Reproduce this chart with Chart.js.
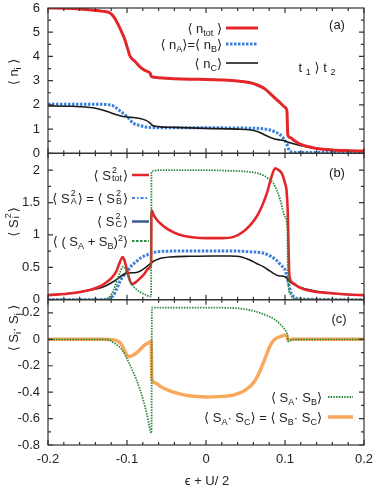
<!DOCTYPE html>
<html>
<head>
<meta charset="utf-8">
<script src="https://cdn.jsdelivr.net/npm/chart.js@4.4.1/dist/chart.umd.min.js"></script>
<style>
  body { margin: 0; background: #fff; }
  #wrap { position: relative; width: 374px; height: 490px; font-family: 'Liberation Sans', 'DejaVu Sans', sans-serif; font-size: 13px; color: #222; }
  #wrap canvas { position: absolute; left: 0; top: 0; }
  .lbl { position: absolute; white-space: nowrap; transform: translate(-50%, -50%); }
  .leg { position: absolute; white-space: nowrap; transform: translateY(-50%); }
  .rot { position: absolute; white-space: nowrap; transform: translate(-50%, -50%) rotate(-90deg); }
  sub { font-size: 9px; vertical-align: -3px; line-height: 0; }
  .ss { display: inline-block; vertical-align: middle; font-size: 9px; line-height: 8px; text-align: left; margin: -6px 1px 0 1px; }
  svg { position: absolute; left: 0; top: 0; }
</style>
</head>
<body>
<div id="wrap">
  <canvas id="ca" width="374" height="490"></canvas>
  <canvas id="cb" width="374" height="490"></canvas>
  <canvas id="cc" width="374" height="490"></canvas>
  <svg width="374" height="490">
    <line x1="226" y1="28" x2="258" y2="28" stroke="#e4262b" stroke-width="3"/>
    <line x1="226" y1="44" x2="258" y2="44" stroke="#3d7fd6" stroke-width="3" stroke-dasharray="2.5 1.5"/>
    <line x1="226" y1="63" x2="258" y2="63" stroke="#1a1a1a" stroke-width="1.6"/>
    <line x1="132" y1="175" x2="149" y2="175" stroke="#e4262b" stroke-width="2.5"/>
    <line x1="132" y1="198" x2="149" y2="198" stroke="#3d7fd6" stroke-width="2" stroke-dasharray="3 2 1.5 2"/>
    <line x1="132" y1="221.5" x2="149" y2="221.5" stroke="#3b5a93" stroke-width="2.5"/>
    <line x1="132" y1="241" x2="149" y2="241" stroke="#2b8a3e" stroke-width="1.8" stroke-dasharray="2.5 1.5"/>
    <line x1="328" y1="397" x2="353" y2="397" stroke="#2b8a3e" stroke-width="1.8" stroke-dasharray="1.5 1.2"/>
    <line x1="328" y1="417" x2="353" y2="417" stroke="#f8a95c" stroke-width="3.5"/>
  </svg>

  <div class="rot" style="left:13px;top:72px">⟨ n<sub>i</sub> ⟩</div>
  <div class="rot" style="left:13px;top:222px">⟨ S<span class="ss">2<br>i</span>⟩</div>
  <div class="rot" style="left:13px;top:328px">⟨ S<sub>i</sub>· S<sub>j</sub> ⟩</div>

  <div class="leg" style="right:152px;top:28px">⟨ n<sub>tot</sub> ⟩</div>
  <div class="leg" style="right:152px;top:44px">⟨ n<sub>A</sub>⟩=⟨ n<sub>B</sub>⟩</div>
  <div class="leg" style="right:152px;top:63px">⟨ n<sub>C</sub>⟩</div>
  <div class="lbl" style="left:337px;top:24px">(a)</div>
  <div class="lbl" style="left:317px;top:67px">t <sub>1</sub> ⟩ t <sub>2</sub></div>

  <div class="leg" style="right:246px;top:175px">⟨ S<span class="ss">2<br>tot</span>⟩</div>
  <div class="leg" style="right:246px;top:198px">⟨ S<span class="ss">2<br>A</span>⟩ = ⟨ S<span class="ss">2<br>B</span>⟩</div>
  <div class="leg" style="right:246px;top:221px">⟨ S<span class="ss">2<br>C</span>⟩</div>
  <div class="leg" style="right:246px;top:241px">⟨ ( S<sub>A</sub> + S<sub>B</sub>)<sup style="font-size:9px">2</sup>⟩</div>
  <div class="lbl" style="left:337px;top:172px">(b)</div>

  <div class="leg" style="right:52px;top:397px">⟨ S<sub>A</sub>· S<sub>B</sub>⟩</div>
  <div class="leg" style="right:52px;top:417px">⟨ S<sub>A</sub>· S<sub>C</sub>⟩ = ⟨ S<sub>B</sub>· S<sub>C</sub>⟩</div>
  <div class="lbl" style="left:339px;top:318px">(c)</div>

  <div class="lbl" style="left:207px;top:480px">ϵ + U/ 2</div>
</div>
<script>
// x axis
var xTicks = [-0.2, -0.1, 0, 0.1, 0.2];

// (a) occupation numbers
var ticksA = [0, 1, 2, 3, 4, 5, 6];
var nTotX = [-0.2, -0.18, -0.16, -0.14, -0.13, -0.122, -0.116, -0.111, -0.106, -0.1025, -0.099, -0.096, -0.09, -0.0835, -0.076, -0.0705, -0.0695, -0.066, -0.06, -0.04, -0.02, 0, 0.02, 0.04, 0.055, 0.065, 0.075, 0.085, 0.094, 0.1, 0.1025, 0.1035, 0.107, 0.111, 0.119, 0.13, 0.14, 0.16, 0.18, 0.2];
var nTotY = [6.0, 5.99, 5.96, 5.9, 5.86, 5.8, 5.6, 5.3, 4.95, 4.67, 4.3, 4.0, 3.8, 3.57, 3.4, 3.3, 3.18, 3.14, 3.12, 3.08, 3.06, 3.05, 3.03, 2.99, 2.92, 2.82, 2.65, 2.35, 2.08, 1.9, 1.72, 0.76, 0.64, 0.54, 0.38, 0.27, 0.2, 0.14, 0.11, 0.09];
var nABX = [-0.2, -0.16, -0.13, -0.122, -0.117, -0.113, -0.107, -0.1, -0.092, -0.084, -0.075, -0.065, -0.05, -0.02, 0.02, 0.05, 0.07, 0.08, 0.088, 0.094, 0.099, 0.102, 0.104, 0.106, 0.11, 0.12, 0.2];
var nABY = [2.03, 2.03, 2.02, 2.0, 1.95, 1.86, 1.7, 1.52, 1.24, 1.15, 1.08, 1.06, 1.05, 1.05, 1.05, 1.04, 1.02, 0.97, 0.88, 0.76, 0.58, 0.41, 0.22, 0.1, 0.05, 0.03, 0.03];
var nCX = [-0.2, -0.17, -0.143, -0.13, -0.1215, -0.112, -0.105, -0.096, -0.0835, -0.076, -0.071, -0.068, -0.06, -0.04, 0, 0.04, 0.055, 0.065, 0.072, 0.078, 0.086, 0.094, 0.1, 0.103, 0.11, 0.119, 0.13, 0.14, 0.16, 0.18, 0.2];
var nCY = [1.96, 1.94, 1.88, 1.78, 1.68, 1.58, 1.52, 1.49, 1.44, 1.36, 1.26, 1.16, 1.1, 1.07, 1.03, 1.0, 0.97, 0.9, 0.8, 0.7, 0.6, 0.55, 0.51, 0.47, 0.4, 0.32, 0.25, 0.2, 0.14, 0.11, 0.09];

// (b) spin squares
var ticksB = [0, 0.5, 1, 1.5, 2];
var sTotX = [-0.2, -0.17, -0.147, -0.135, -0.126, -0.12, -0.116, -0.113, -0.11, -0.1055, -0.103, -0.1, -0.097, -0.094, -0.09, -0.0835, -0.078, -0.073, -0.0695, -0.069, -0.066, -0.062, -0.058, -0.05, -0.041, -0.03, -0.015, 0, 0.02, 0.035, 0.047, 0.056, 0.064, 0.07, 0.077, 0.083, 0.0875, 0.092, 0.096, 0.1, 0.102, 0.1035, 0.1045, 0.1055, 0.11, 0.118, 0.127, 0.14, 0.16, 0.18, 0.2];
var sTotY = [0.07, 0.1, 0.15, 0.2, 0.27, 0.33, 0.39, 0.45, 0.55, 0.66, 0.6, 0.46, 0.32, 0.24, 0.26, 0.33, 0.4, 0.48, 0.56, 1.38, 1.3, 1.23, 1.18, 1.1, 1.04, 0.99, 0.96, 0.95, 0.95, 0.97, 1.05, 1.15, 1.28, 1.42, 1.64, 1.9, 2.03, 2.0, 1.95, 1.8, 1.68, 1.35, 0.8, 0.38, 0.26, 0.19, 0.15, 0.12, 0.1, 0.08, 0.07];
var sAX = [-0.2, -0.14, -0.128, -0.1215, -0.117, -0.113, -0.109, -0.105, -0.1, -0.094, -0.088, -0.082, -0.075, -0.068, -0.062, -0.04, 0, 0.04, 0.055, 0.0725, 0.082, 0.089, 0.095, 0.1, 0.104, 0.108, 0.113, 0.12, 0.2];
var sAY = [0, 0, 0.005, 0.02, 0.07, 0.17, 0.28, 0.36, 0.43, 0.53, 0.59, 0.65, 0.69, 0.72, 0.74, 0.75, 0.75, 0.75, 0.74, 0.72, 0.67, 0.61, 0.53, 0.46, 0.27, 0.1, 0.03, 0.01, 0];
var sCX = [-0.2, -0.17, -0.147, -0.134, -0.126, -0.117, -0.1, -0.088, -0.075, -0.067, -0.06, -0.045, -0.02, 0.01, 0.03, 0.045, 0.056, 0.064, 0.0725, 0.08, 0.085, 0.092, 0.1, 0.106, 0.114, 0.123, 0.14, 0.157, 0.18, 0.2];
var sCY = [0.07, 0.1, 0.15, 0.18, 0.22, 0.28, 0.41, 0.42, 0.51, 0.59, 0.63, 0.66, 0.67, 0.675, 0.675, 0.66, 0.61, 0.56, 0.51, 0.45, 0.41, 0.37, 0.355, 0.28, 0.22, 0.176, 0.13, 0.1, 0.08, 0.07];
var sABX = [-0.2, -0.13, -0.1215, -0.117, -0.113, -0.109, -0.105, -0.1, -0.096, -0.09, -0.0835, -0.077, -0.071, -0.0695, -0.069, -0.066, -0.06, -0.04, 0, 0.03, 0.05, 0.062, 0.0725, 0.08, 0.085, 0.09, 0.094, 0.1, 0.103, 0.1035, 0.1045, 0.107, 0.11, 0.115, 0.2];
var sABY = [0, 0, 0.05, 0.15, 0.28, 0.42, 0.51, 0.42, 0.28, 0.18, 0.12, 0.08, 0.05, 0.05, 1.97, 1.99, 2.0, 2.0, 2.0, 1.99, 1.98, 1.96, 1.92, 1.86, 1.8, 1.68, 1.54, 1.28, 1.08, 0.5, 0.2, 0.08, 0.03, 0.01, 0];

// (c) spin correlations
var ticksC = [-0.8, -0.6, -0.4, -0.2, 0, 0.2];
var cABX = [-0.2, -0.13, -0.122, -0.117, -0.111, -0.105, -0.099, -0.092, -0.0835, -0.075, -0.069, -0.0685, -0.066, -0.05, 0, 0.04, 0.06, 0.077, 0.087, 0.094, 0.099, 0.102, 0.103, 0.104, 0.108, 0.113, 0.12, 0.2];
var cABY = [0, 0, -0.005, -0.025, -0.05, -0.09, -0.16, -0.25, -0.38, -0.56, -0.71, 0.24, 0.24, 0.24, 0.24, 0.235, 0.215, 0.18, 0.15, 0.114, 0.08, 0.05, 0.03, -0.015, -0.005, 0, 0, 0];
var cACX = [-0.2, -0.13, -0.118, -0.113, -0.108, -0.105, -0.102, -0.099, -0.096, -0.0925, -0.0875, -0.083, -0.079, -0.074, -0.0695, -0.0685, -0.064, -0.058, -0.05, -0.041, -0.024, 0, 0.026, 0.043, 0.052, 0.06, 0.066, 0.0725, 0.077, 0.081, 0.087, 0.094, 0.1, 0.1025, 0.1035, 0.106, 0.11, 0.2];
var cACY = [0, 0, -0.003, -0.01, -0.03, -0.06, -0.1, -0.127, -0.13, -0.12, -0.1, -0.075, -0.05, -0.03, -0.015, -0.3, -0.33, -0.355, -0.38, -0.4, -0.425, -0.436, -0.43, -0.405, -0.375, -0.33, -0.27, -0.18, -0.11, -0.05, 0.0, 0.02, 0.03, 0.03, -0.005, -0.003, 0, 0];

Chart.defaults.font.family = "'Liberation Sans', Arial, sans-serif";
Chart.defaults.font.size = 13;
Chart.defaults.color = '#222';

function pts(xs, ys) {
  return xs.map(function (x, i) { return { x: x, y: ys[i] }; });
}

function line(data, color, width, dash) {
  return {
    data: data, borderColor: color, borderWidth: width, borderDash: dash || [],
    pointRadius: 0, fill: false, cubicInterpolationMode: 'monotone', borderCapStyle: 'butt'
  };
}

// box + inside ticks like gnuplot
var frame = {
  id: 'frame',
  afterDatasetsDraw: function (chart, args, opts) {
    var ctx = chart.ctx, a = chart.chartArea, xs = chart.scales.x, ys = chart.scales.y;
    ctx.save();
    ctx.strokeStyle = '#333';
    ctx.lineWidth = 1.2;
    ctx.strokeRect(a.left, a.top, a.right - a.left, a.bottom - a.top);
    ctx.beginPath();
    for (var i = 0; i <= 20; i++) {
      var px = xs.getPixelForValue(-0.2 + i * 0.02);
      var len = i % 5 === 0 ? 5 : 3;
      ctx.moveTo(px, a.bottom); ctx.lineTo(px, a.bottom - len);
      ctx.moveTo(px, a.top); ctx.lineTo(px, a.top + len);
    }
    var n = Math.round((ys.max - ys.min) / opts.minor);
    for (var j = 0; j <= n; j++) {
      var v = ys.min + j * opts.minor;
      var py = ys.getPixelForValue(v);
      if (py < a.top + 1) continue;
      var major = Math.abs(v / opts.major - Math.round(v / opts.major)) < 1e-6;
      var l = major ? 5 : 3;
      ctx.moveTo(a.left, py); ctx.lineTo(a.left + l, py);
      ctx.moveTo(a.right, py); ctx.lineTo(a.right - l, py);
    }
    ctx.stroke();
    ctx.restore();
  }
};

function makeChart(id, datasets, yMin, yMax, yTicks, minor, major, top, bottom, showX) {
  return new Chart(document.getElementById(id), {
    type: 'line',
    data: { datasets: datasets },
    options: {
      responsive: false,
      animation: false,
      layout: { padding: { top: top, bottom: bottom, left: 0, right: 10 } },
      plugins: { legend: { display: false }, tooltip: { enabled: false }, frame: { minor: minor, major: major } },
      scales: {
        x: {
          type: 'linear', min: -0.2, max: 0.2, display: showX,
          grid: { display: false, drawTicks: false }, border: { display: false },
          afterBuildTicks: function (s) { s.ticks = xTicks.map(function (v) { return { value: v }; }); },
          ticks: { padding: 7, maxRotation: 0, callback: function (v) { return String(v); } },
          afterFit: function (s) { s.height = showX ? 20 : 0; s.paddingLeft = 0; s.paddingRight = 0; }
        },
        y: {
          min: yMin, max: yMax,
          grid: { display: false, drawTicks: false }, border: { display: false },
          afterBuildTicks: function (s) { s.ticks = yTicks.map(function (v) { return { value: v }; }); },
          ticks: { padding: 8, callback: function (v) { return String(v); } },
          afterFit: function (s) { s.width = 48; s.paddingTop = 0; s.paddingBottom = 0; }
        }
      }
    },
    plugins: [frame]
  });
}

makeChart('ca', [
  line(pts(nTotX, nTotY), '#e4262b', 3),
  line(pts(nCX, nCY), '#1a1a1a', 1.6),
  line(pts(nABX, nABY), '#3d7fd6', 3, [2.5, 1.5])
], 0, 6, ticksA, 0.5, 1, 8, 336.7, false);

makeChart('cb', [
  line(pts(sABX, sABY), '#2b8a3e', 1.8, [1.5, 1.2]),
  line(pts(sTotX, sTotY), '#e4262b', 2.6),
  line(pts(sCX, sCY), '#1a1a1a', 1.6),
  line(pts(sAX, sAY), '#3d7fd6', 3, [2.5, 1.5])
], 0, 2.26, ticksB, 0.25, 0.5, 153.3, 190.3, false);

makeChart('cc', [
  line(pts(cABX, cABY), '#2b8a3e', 1.8, [1.5, 1.2]),
  line(pts(cACX, cACY), '#f8a95c', 3.5)
], -0.8, 0.3, ticksC, 0.1, 0.2, 299.7, 25, true);
</script>
</body>
</html>
